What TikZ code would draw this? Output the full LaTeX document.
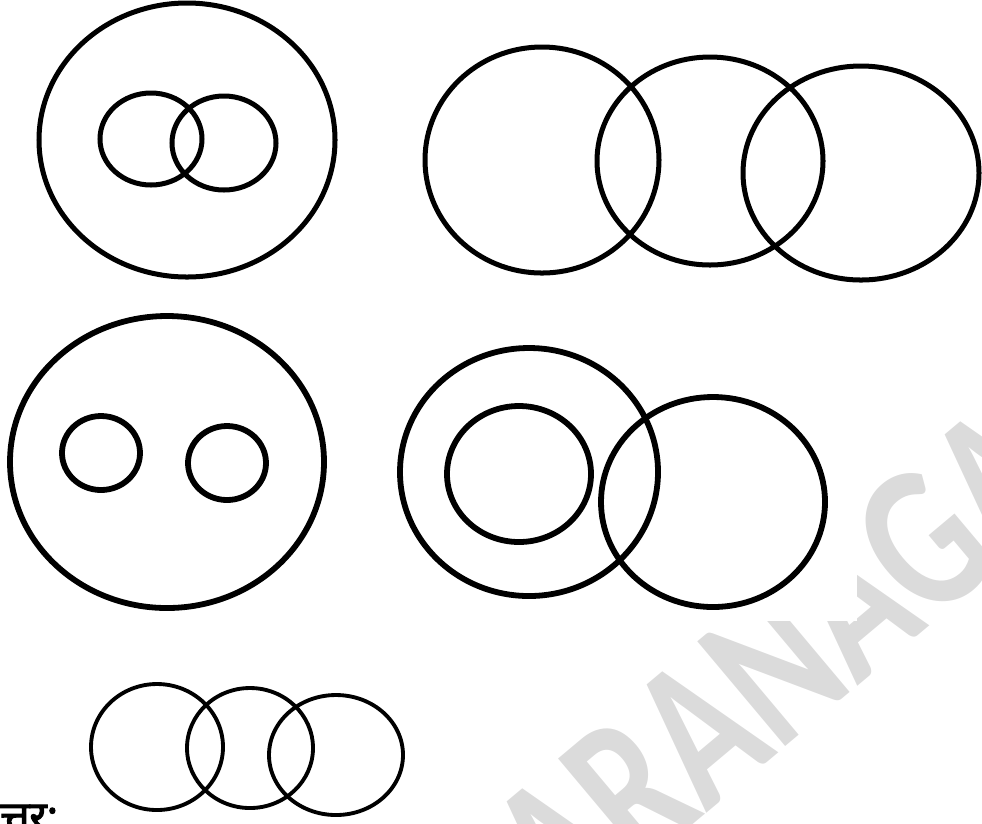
\documentclass[tikz,border=0pt]{standalone}
\usepackage{fontspec}
\usetikzlibrary{positioning}
\newfontfamily\hindifont[Script=Devanagari, FakeBold=2.5]{Noto Sans}
\newfontfamily\markfont{Carlito}

\begin{document}
\begin{tikzpicture}[
        x=0.02cm, y=-0.02cm,
        ring/.style = {draw=black, line width=2.85pt},
        fatring/.style = {draw=black, line width=3.3pt},
        thinring/.style = {draw=black, line width=2.2pt},
        stamp/.style = {text=black!14, font=\markfont\bfseries\fontsize{120}{120}\selectfont, inner sep=0pt, transform shape},
        answer/.style = {anchor=base west, inner sep=0pt, font=\hindifont\fontsize{24}{24}\selectfont}
    ]
        \useasboundingbox (0,0) rectangle (982,823);

        % Watermark behind the scanned figures
        \begin{scope}
            \clip (0,0) rectangle (982,823);
            \begin{scope}[shift={(778,664)}, rotate=40, xscale=0.74]
                \node[stamp] (wm) at (0,0) {ARANAGA};
            \end{scope}
            \fill[white] (0,0) rectangle (857,621);
        \end{scope}

        % Top left: two overlapping sets inside a big one
        \draw[ring] (187,140) ellipse [x radius=148, y radius=137];
        \draw[ring] (151,139) ellipse [x radius=51, y radius=46];
        \draw[ring] (224,143) ellipse [x radius=52, y radius=47];

        % Top right: chain of three sets
        \draw[ring] (542,160) ellipse [x radius=117, y radius=113];
        \draw[ring] (710,161) ellipse [x radius=113, y radius=104];
        \draw[ring] (861,173) ellipse [x radius=118, y radius=107];

        % Middle left: two disjoint sets inside a big one
        \draw[fatring] (167,462) ellipse [x radius=157, y radius=146];
        \draw[fatring] (101,453) ellipse [x radius=39, y radius=37];
        \draw[fatring] (227,463) ellipse [x radius=39, y radius=37];

        % Middle right: one set inside, one overlapping
        \draw[fatring] (529,472) ellipse [x radius=129, y radius=124];
        \draw[fatring] (519,474) ellipse [x radius=72, y radius=68];
        \draw[fatring] (713,502) ellipse [x radius=112, y radius=105];

        % Bottom: answer
        \draw[thinring] (157,747) ellipse [x radius=66, y radius=63];
        \draw[thinring] (250,748) ellipse [x radius=63, y radius=60];
        \draw[thinring] (336,755) ellipse [x radius=67, y radius=60];

        \node[answer] (ans) at (0,831) {त्तर:};

    \end{tikzpicture}
\end{document}
